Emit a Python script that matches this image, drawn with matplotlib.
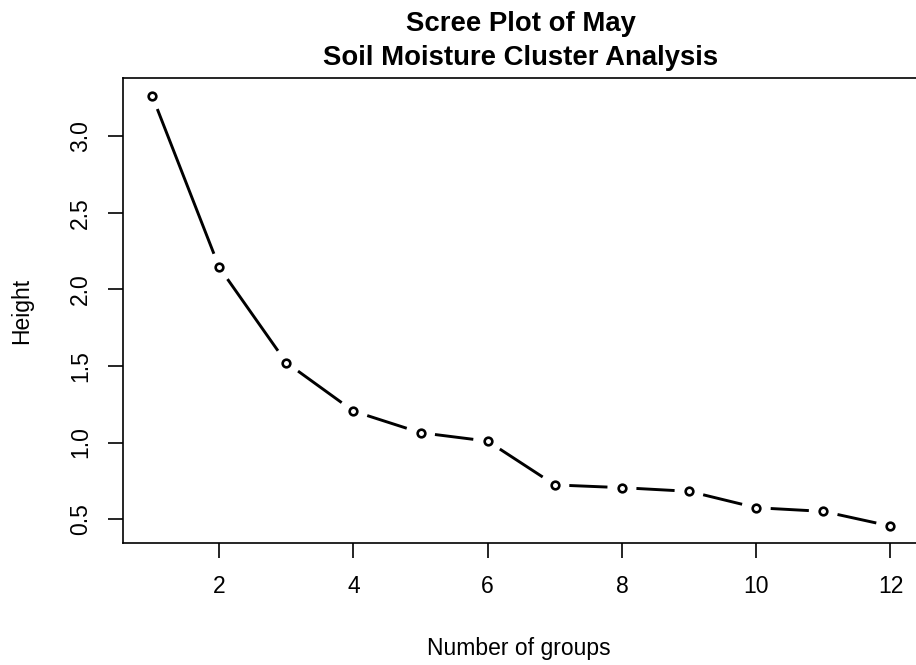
import numpy as np
import matplotlib
matplotlib.use("Agg")
import matplotlib.pyplot as plt

# merge heights for the last 12 steps of the clustering
groups = np.arange(1, 13)
heights = [3.267, 2.145, 1.522, 1.205, 1.064, 1.009, 0.723, 0.705, 0.681, 0.574, 0.550, 0.454]
xticks = [2, 4, 6, 8, 10, 12]
yticks = [0.5, 1.0, 1.5, 2.0, 2.5, 3.0]

plt.rcParams["font.family"] = ["Liberation Sans", "DejaVu Sans"]
BASE = 16.5

W, H = 916, 665
fig = plt.figure(figsize=(W / 100, H / 100), dpi=100)
# plot region runs a little past the right edge of the canvas
ax = fig.add_axes([122.5 / W, (H - 543.3) / H, (920.0 - 122.5) / W, (543.3 - 78.3) / H])

xr = 12 - 1
yr = max(heights) - min(heights)
ax.set_xlim(1 - 0.04 * xr, 12 + 0.04 * xr)
ax.set_ylim(min(heights) - 0.04 * yr, max(heights) + 0.04 * yr)

# type="b" style: segments broken around each point
fig.canvas.draw()
pts = ax.transData.transform(np.column_stack([groups, heights]))
gap = 14.5
for p0, p1 in zip(pts[:-1], pts[1:]):
    d = p1 - p0
    n = np.hypot(*d)
    if n <= 2 * gap:
        continue
    u = d / n
    seg = ax.transData.inverted().transform(np.vstack([p0 + u * gap, p1 - u * gap]))
    ax.plot(seg[:, 0], seg[:, 1], color="black", lw=2.1, solid_capstyle="butt")

ax.plot(groups, heights, linestyle="none", marker="o", ms=5.5, mfc="white",
        mec="black", mew=1.9)

ax.set_xticks(xticks)
ax.set_xticklabels([str(t) for t in xticks])
ax.set_yticks(yticks)
ax.set_yticklabels([f"{t:.1f}" for t in yticks], rotation=90, va="center")
ax.tick_params(axis="both", length=11, width=1.2, labelsize=BASE, colors="black")
ax.tick_params(axis="x", pad=12)
ax.tick_params(axis="y", pad=11)
for s in ax.spines.values():
    s.set_linewidth(1.2)

fig.text(521 / W, 1 - 31 / H, "Scree Plot of May", ha="center", va="baseline",
         fontsize=BASE * 1.2, fontweight="bold")
fig.text(521 / W, 1 - 65 / H, "Soil Moisture Cluster Analysis", ha="center",
         va="baseline", fontsize=BASE * 1.2, fontweight="bold")
fig.text(519 / W, 1 - 655 / H, "Number of groups", ha="center", va="baseline", fontsize=BASE)
fig.text(22 / W, 1 - 310.8 / H, "Height", ha="center", va="center", rotation=90, fontsize=BASE)

fig.savefig("out.png", dpi=100)
